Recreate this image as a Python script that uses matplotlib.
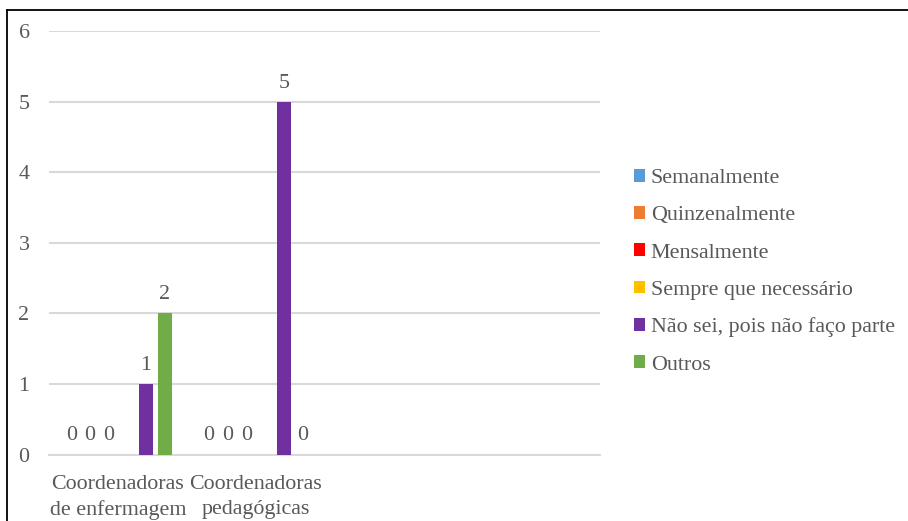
import numpy as np
import matplotlib
matplotlib.use("Agg")
import matplotlib.pyplot as plt
from matplotlib.lines import Line2D

plt.rcParams['font.family'] = ['Liberation Serif', 'DejaVu Serif']

categories = ["Coordenadoras\nde enfermagem", "Coordenadoras\npedagógicas", "", ""]
series_names = ["Semanalmente", "Quinzenalmente", "Mensalmente",
                "Sempre que necessário", "Não sei, pois não faço parte", "Outros"]
series_colors = ["#5B9BD5", "#ED7D31", "#FF0000", "#FFC000", "#7030A0", "#70AD47"]
nan = np.nan
semanalmente = [0, 0, nan, nan]
quinzenalmente = [0, 0, nan, nan]
mensalmente = [0, 0, nan, nan]
sempre = [nan, nan, nan, nan]
nao_sei = [1, 5, nan, nan]
outros = [2, 0, nan, nan]
series_values = [semanalmente, quinzenalmente, mensalmente, sempre, nao_sei, outros]
y_ticks = [0, 1, 2, 3, 4, 5, 6]

text_color = "#595959"
grid_color = "#D9D9D9"
fs = 15.8

fig = plt.figure(figsize=(9.08, 5.21), dpi=100)
ax = fig.add_axes([0.054, 0.1276, 0.607, 0.8129])

x = np.arange(len(categories))
step = 0.1357
width = 0.104
handles = []
for i, (name, vals, col) in enumerate(zip(series_names, series_values, series_colors)):
    vals = np.array(vals, dtype=float)
    bars = ax.bar(x + (i - 2.5) * step, vals, width, color=col, label=name, zorder=3)
    labels = ["" if np.isnan(v) else f"{v:g}" for v in vals]
    ax.bar_label(bars, labels=labels, padding=6.5, fontsize=fs, color=text_color)
    handles.append(bars)

ax.set_xlim(-0.5, len(categories) - 0.5)
ax.set_ylim(0, 6)
ax.set_yticks(y_ticks)
ax.set_xticks(x)
ax.set_xticklabels(categories, fontsize=fs, color=text_color, linespacing=1.4)
ax.tick_params(axis='y', length=0, pad=14, labelsize=fs, labelcolor=text_color)
ax.tick_params(axis='x', length=0, pad=15)
ax.yaxis.grid(True, color=grid_color, linewidth=1.5, zorder=0)
for s in ["top", "right", "left"]:
    ax.spines[s].set_visible(False)
ax.spines["bottom"].set_color(grid_color)
ax.spines["bottom"].set_linewidth(1.5)

fig.legend(handles=handles, labels=series_names, loc="center left",
           bbox_to_anchor=(0.6864, 0.478), frameon=False, fontsize=fs,
           labelcolor=text_color, handlelength=0.5, handleheight=0.5,
           handletextpad=0.25, labelspacing=0.82, borderpad=0)

# outer frame
fig.add_artist(Line2D([7 / 908, 1.0], [1 - 9.5 / 521, 1 - 9.5 / 521],
                      transform=fig.transFigure, color="black", linewidth=1.3))
fig.add_artist(Line2D([7 / 908, 7 / 908], [0.0, 1 - 9.5 / 521],
                      transform=fig.transFigure, color="black", linewidth=1.3))

fig.savefig("out.png", dpi=100)
